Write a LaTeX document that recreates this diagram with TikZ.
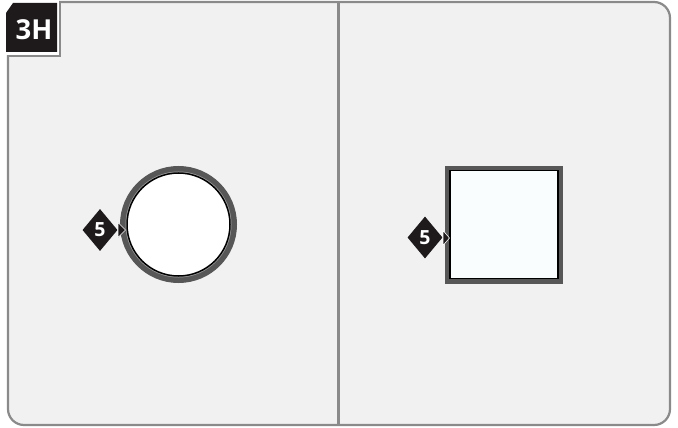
\documentclass[tikz,border=0pt]{standalone}
\usepackage{fontspec}
\newfontfamily\lblfont{Open Sans}
\usetikzlibrary{shapes.geometric}
\definecolor{panel}{HTML}{F1F1F1}
\definecolor{frame}{HTML}{8A8A8A}
\definecolor{ring}{HTML}{575757}
\definecolor{ringlight}{HTML}{9A9A9A}
\definecolor{ink}{HTML}{1E1A1B}
\definecolor{sqfill}{HTML}{FAFDFD}
\tikzset{
  badge/.style={shape=diamond, fill=ink, inner sep=0pt, minimum width=35pt, minimum height=42pt, text=white, font=\lblfont\bfseries\fontsize{19.5}{19.5}\selectfont},
  pointer/.style={fill=ink, draw=white, line width=0.6pt},
  framestyle/.style={draw=frame, line width=2.2pt},
}
\begin{document}
\begin{tikzpicture}[x=1pt,y=-1pt]
\useasboundingbox (0,0) rectangle (678,428);
% panel
\path[fill=panel, framestyle, rounded corners=16pt] (8,2) rectangle (670,425);
\fill[white] (0,0) rectangle (59,55);
\draw[framestyle, line cap=rect] (60,2) -- (60,56) -- (8,56);
% divider
\draw[framestyle] (338.5,2) -- (338.5,425);
% label
\fill[ink] (13,3) -- (57,3) -- (57,52) -- (6,52) -- (6,13) -- cycle;
\node[text=white, font=\lblfont\bfseries\fontsize{27.5}{27.5}\selectfont, inner sep=0pt] (lbl) at (34,29.5) {3H};
% circle
\node[circle, draw=ring, line width=6pt, minimum size=111pt, inner sep=0pt] (ringc) at (178.5,224.5) {};
\draw[ringlight, line width=1pt] (ringc.center) circle[radius=52.5];
\draw[fill=white, draw=black, line width=1.5pt] (ringc.center) circle[radius=51.5];
\node[badge] (b1) at (100,230) {5};
\coordinate (t1) at (125.5,230);
\fill[pointer] (118,222.5) -- (t1) -- (118,237.5) -- cycle;
% square
\node[rectangle, draw=ring, line width=5pt, minimum size=113pt, inner sep=0pt] (sq) at (504,224.5) {};
\draw[fill=sqfill, draw=black, line width=1.5pt] (450,170.5) rectangle (558,278.5);
\node[badge] (b2) at (425,237.5) {5};
\coordinate (t2) at (449.5,238);
\fill[pointer] (443,230.5) -- (t2) -- (443,245.5) -- cycle;
\end{tikzpicture}
\end{document}
